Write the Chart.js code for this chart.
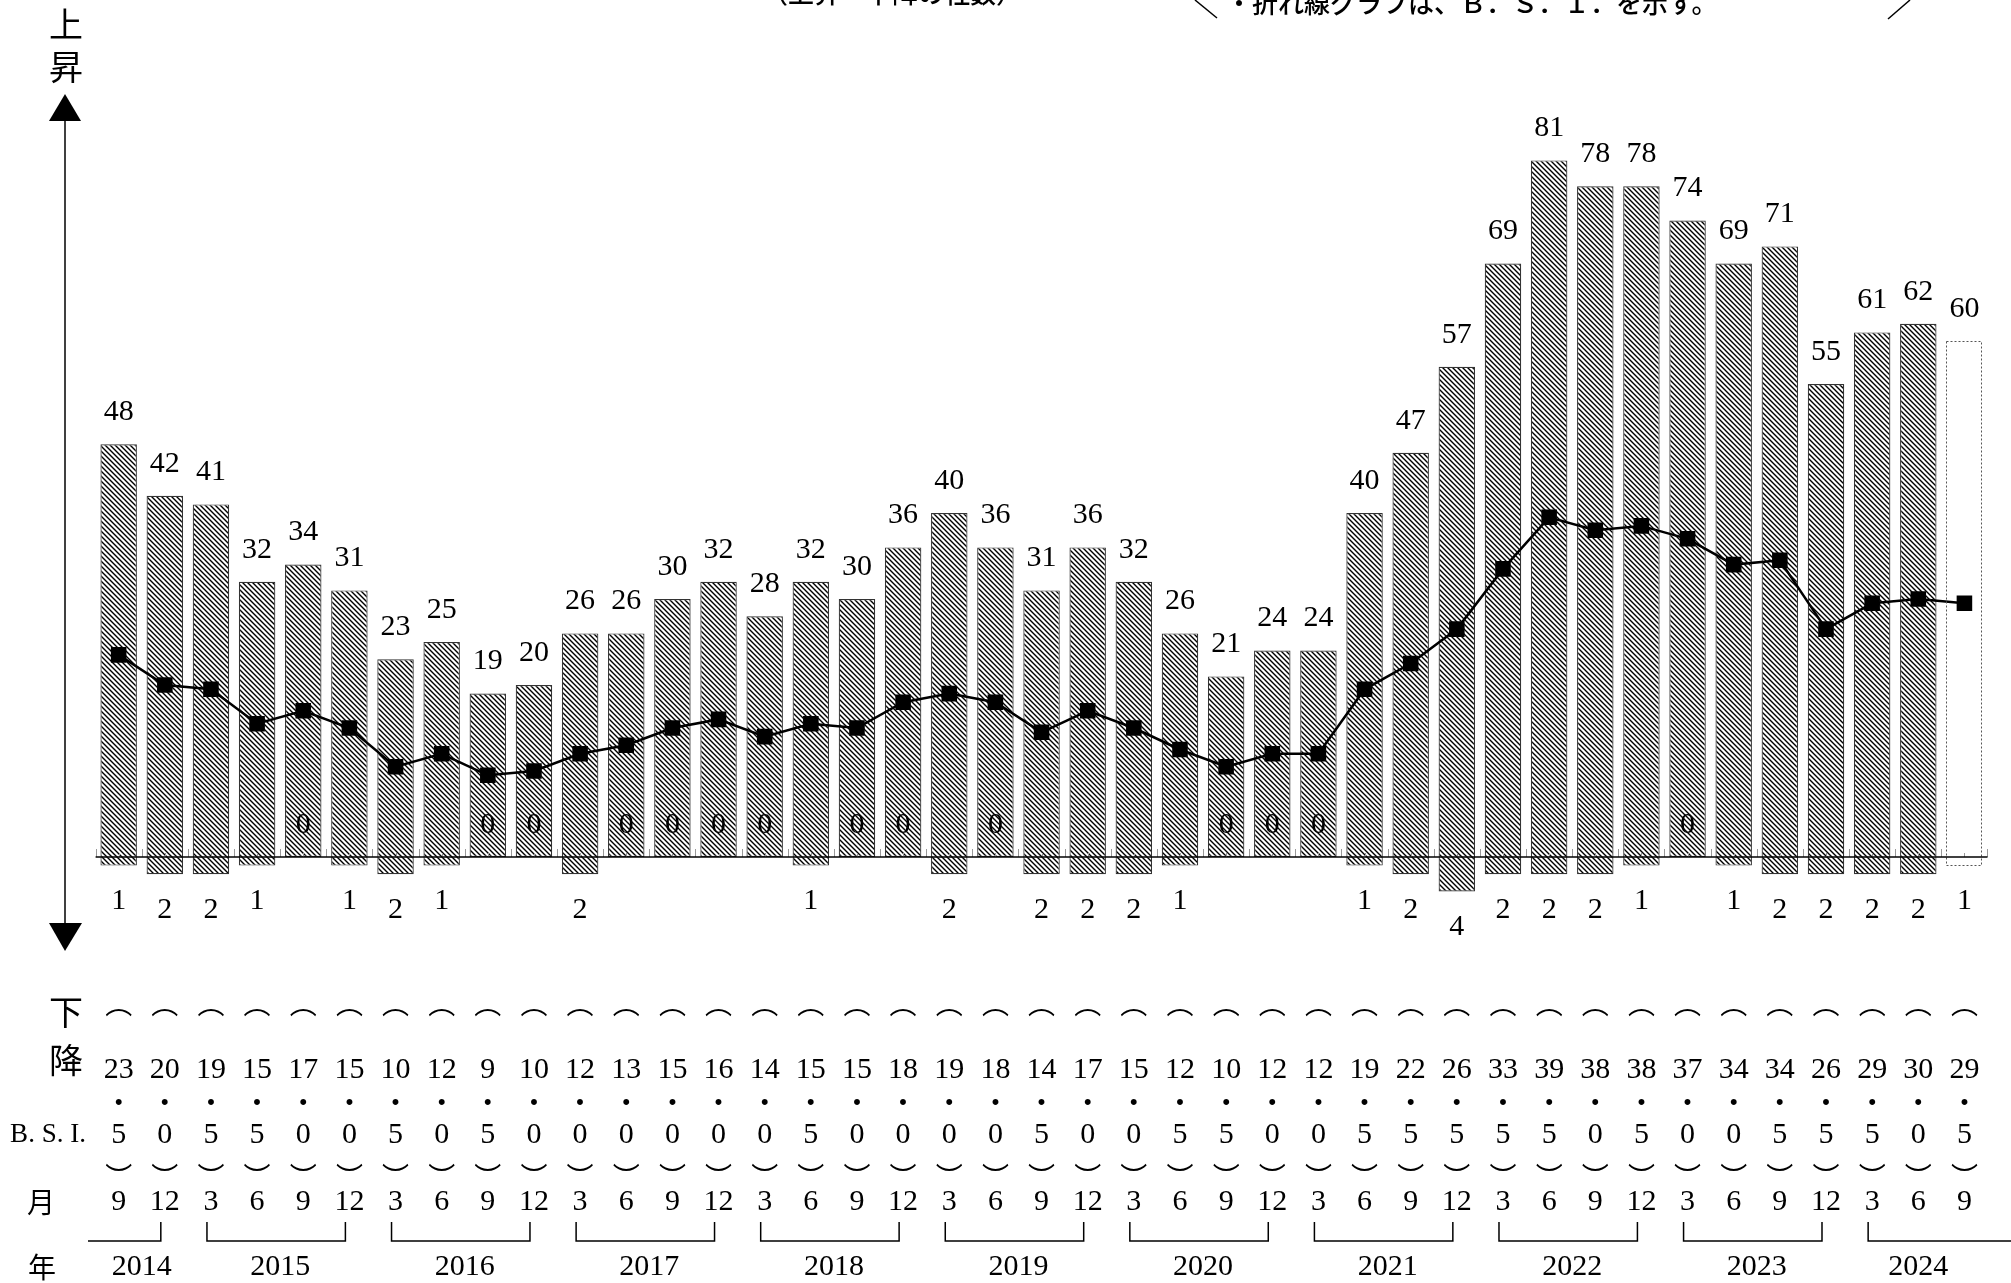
<!DOCTYPE html>
<html><head><meta charset="utf-8">
<script src="https://cdn.jsdelivr.net/npm/chart.js@4.4.1/dist/chart.umd.min.js"></script>
<style>html,body{margin:0;padding:0;background:#fff;}#wrap{position:relative;width:2011px;height:1283px;background:#fff;}canvas{display:block;}</style>
</head><body><div id="wrap"><canvas id="c"></canvas></div>
<script>
// ---- data ----
const years = ['2014','2015','2016','2017','2018','2019','2020','2021','2022','2023','2024'];
const months = [9,12, 3,6,9,12, 3,6,9,12, 3,6,9,12, 3,6,9,12, 3,6,9,12, 3,6,9,12, 3,6,9,12, 3,6,9,12, 3,6,9,12, 3,6,9];
const upValues = [48,42,41,32,34,31,23,25,19,20,26,26,30,32,28,32,30,36,40,36,31,36,32,26,21,24,24,40,47,57,69,81,78,78,74,69,71,55,61,62,60];
const downValues = [1,2,2,1,0,1,2,1,0,0,2,0,0,0,0,1,0,0,2,0,2,2,2,1,0,0,0,1,2,4,2,2,2,1,0,1,2,2,2,2,1];
const bsiValues = [23.5,20.0,19.5,15.5,17.0,15.0,10.5,12.0,9.5,10.0,12.0,13.0,15.0,16.0,14.0,15.5,15.0,18.0,19.0,18.0,14.5,17.0,15.0,12.5,10.5,12.0,12.0,19.5,22.5,26.5,33.5,39.5,38.0,38.5,37.0,34.0,34.5,26.5,29.5,30.0,29.5];
const forecastIndex = 40;
const titleText = '・折れ線グラフは、Ｂ．Ｓ．Ｉ．を示す。';
const subTitleText = '（上昇・下降の社数）';

// ---- derived ----
const yearOf = [];
{ let yi = 0; months.forEach((m, i) => { if (i > 0 && m === 3) yi++; yearOf.push(yi); }); }
const categories = months.map((m, i) => years[yearOf[i]] + '/' + m);
const groups = years.map((yr, k) => {
  const idx = yearOf.map((v, i) => v === k ? i : -1).filter(i => i >= 0);
  return { label: yr, first: idx[0], last: idx[idx.length - 1] };
});

// hatch pattern
function makeHatch() {
  const s = 5, c = document.createElement('canvas');
  c.width = s; c.height = s;
  const g = c.getContext('2d');
  g.fillStyle = '#fff'; g.fillRect(0, 0, s, s);
  g.strokeStyle = '#000'; g.lineWidth = 1.4;
  g.beginPath();
  g.moveTo(-1, -1); g.lineTo(s + 1, s + 1);
  g.moveTo(-1, s - 1); g.lineTo(1, s + 1);
  g.moveTo(s - 1, -1); g.lineTo(s + 1, 1);
  g.stroke();
  return document.getElementById('c').getContext('2d').createPattern(c, 'repeat');
}
const hatch = makeHatch();

const NUM = '30px "Liberation Serif", "DejaVu Serif", serif';
const CJK = '"Noto Sans CJK JP", "Noto Sans", sans-serif';

const overlay = {
  id: 'overlay',
  afterDatasetsDraw(chart) {
    const { ctx, chartArea: a, scales: { x, y } } = chart;
    const y0 = y.getPixelForValue(0);
    const step = x.getPixelForValue(1) - x.getPixelForValue(0);
    ctx.save();
    // forecast bar dashed outline
    const el = chart.getDatasetMeta(0).data[forecastIndex];
    const p = el.getProps(['x', 'y', 'base', 'width'], true);
    const top = Math.min(p.y, p.base), bot = Math.max(p.y, p.base);
    ctx.setLineDash([2, 2]); ctx.strokeStyle = '#555'; ctx.lineWidth = 1;
    ctx.strokeRect(Math.round(p.x - p.width / 2) + 0.5, Math.round(top) + 0.5, Math.round(p.width) - 1, Math.round(bot - top) - 1);
    ctx.setLineDash([]);
    // baseline + ticks
    ctx.strokeStyle = '#999'; ctx.lineWidth = 1;
    ctx.beginPath();
    for (let i = 0; i <= categories.length; i++) {
      const bx = Math.round(a.left + i * step) + 0.5;
      ctx.moveTo(bx, y0 - 8); ctx.lineTo(bx, y0);
    }
    for (let i = 0; i < categories.length; i++) {
      const cx = Math.round(x.getPixelForValue(i)) + 0.5;
      ctx.moveTo(cx, y0 - 4); ctx.lineTo(cx, y0);
    }
    ctx.stroke();
    ctx.strokeStyle = '#000'; ctx.lineWidth = 1.5;
    ctx.beginPath(); ctx.moveTo(a.left, y0); ctx.lineTo(a.right, y0); ctx.stroke();

    // value labels
    ctx.fillStyle = '#000'; ctx.textAlign = 'center'; ctx.textBaseline = 'middle';
    ctx.font = NUM;
    upValues.forEach((v, i) => {
      const cx = x.getPixelForValue(i);
      ctx.fillText(String(v), cx, y.getPixelForValue(v) - 32);
      const d = downValues[i];
      if (d > 0) ctx.fillText(String(d), cx, y.getPixelForValue(-d) + 36);
      else ctx.fillText('0', cx, y0 - 32);
    });

    // bottom table
    bsiValues.forEach((v, i) => {
      const cx = x.getPixelForValue(i);
      const ip = Math.floor(v), dp = Math.round((v - ip) * 10);
      ctx.font = '27px ' + CJK;
      ctx.fillText('︵', cx, 1004);
      ctx.fillText('︶', cx, 1177);
      ctx.font = '28px ' + CJK;
      ctx.fillText('・', cx, 1102);
      ctx.font = NUM;
      ctx.fillText(String(ip), cx, 1070);
      ctx.fillText(String(dp), cx, 1135);
      ctx.fillText(String(months[i]), cx, 1202);
    });
    // year brackets
    ctx.strokeStyle = '#000'; ctx.lineWidth = 1.5;
    groups.forEach((g, k) => {
      const x1 = x.getPixelForValue(g.first) - 4;
      const x2 = x.getPixelForValue(g.last) - 4;
      const startX = k === 0 ? 88 : x1;
      const endX = k === groups.length - 1 ? 2011 : x2;
      ctx.beginPath();
      if (k !== 0) { ctx.moveTo(x1, 1222); ctx.lineTo(x1, 1241); }
      else ctx.moveTo(startX, 1241);
      ctx.lineTo(endX, 1241);
      if (k !== groups.length - 1) ctx.lineTo(x2, 1222);
      ctx.stroke();
      ctx.font = NUM;
      ctx.fillText(g.label, (x.getPixelForValue(g.first) + x.getPixelForValue(g.last)) / 2, 1267);
    });

    // left labels
    ctx.font = '34px ' + CJK;
    ctx.fillText('上', 66, 24);
    ctx.fillText('昇', 66, 67);
    ctx.fillText('下', 66, 1012);
    ctx.fillText('降', 66, 1060);
    ctx.font = '28px ' + CJK;
    ctx.fillText('月', 41, 1202);
    ctx.fillText('年', 42, 1267);
    ctx.font = '27px "Liberation Serif", serif';
    ctx.fillText('B. S. I.', 48, 1135);

    // arrow
    ctx.fillStyle = '#000'; ctx.strokeStyle = '#000'; ctx.lineWidth = 1.5;
    ctx.beginPath(); ctx.moveTo(65, 120); ctx.lineTo(65, 924); ctx.stroke();
    ctx.beginPath(); ctx.moveTo(65, 94); ctx.lineTo(81, 121); ctx.lineTo(49, 121); ctx.closePath(); ctx.fill();
    ctx.beginPath(); ctx.moveTo(65, 951); ctx.lineTo(82, 923); ctx.lineTo(49, 923); ctx.closePath(); ctx.fill();

    // top (cut-off) title
    ctx.textAlign = 'left'; ctx.textBaseline = 'alphabetic';
    ctx.font = '500 26px ' + CJK;
    ctx.fillText(titleText, 1226, 13);
    ctx.fillText(subTitleText, 762, 3);
    ctx.lineWidth = 1.5;
    ctx.beginPath(); ctx.moveTo(1195, 0); ctx.lineTo(1217, 18); ctx.stroke();
    ctx.beginPath(); ctx.moveTo(1910, 0); ctx.lineTo(1888, 19); ctx.stroke();
    ctx.restore();
  }
};

new Chart(document.getElementById('c'), {
  data: {
    labels: categories,
    datasets: [
      {
        type: 'bar', label: '上昇・下降',
        data: upValues.map((u, i) => [-downValues[i], u]),
        backgroundColor: c => c.dataIndex === forecastIndex ? '#fff' : hatch,
        borderColor: '#333',
        borderWidth: c => c.dataIndex === forecastIndex ? 0 : 1.2,
        borderSkipped: false,
        barPercentage: 0.79, categoryPercentage: 1,
        order: 2
      },
      {
        type: 'line', label: 'B.S.I.',
        data: bsiValues,
        borderColor: '#000', borderWidth: 2.5, tension: 0,
        pointStyle: 'rect', pointRadius: 11, pointBackgroundColor: '#000', pointBorderWidth: 0,
        order: 1
      }
    ]
  },
  options: {
    responsive: true, maintainAspectRatio: false, animation: false, devicePixelRatio: 1,
    layout: { padding: { left: 95.6, right: 23.5, top: 40, bottom: 211 } },
    plugins: { legend: { display: false }, tooltip: { enabled: false } },
    scales: {
      x: { type: 'category', display: false, offset: true, grid: { display: false } },
      y: { display: false, min: -25, max: 95 }
    }
  },
  plugins: [overlay]
});
</script></body></html>
